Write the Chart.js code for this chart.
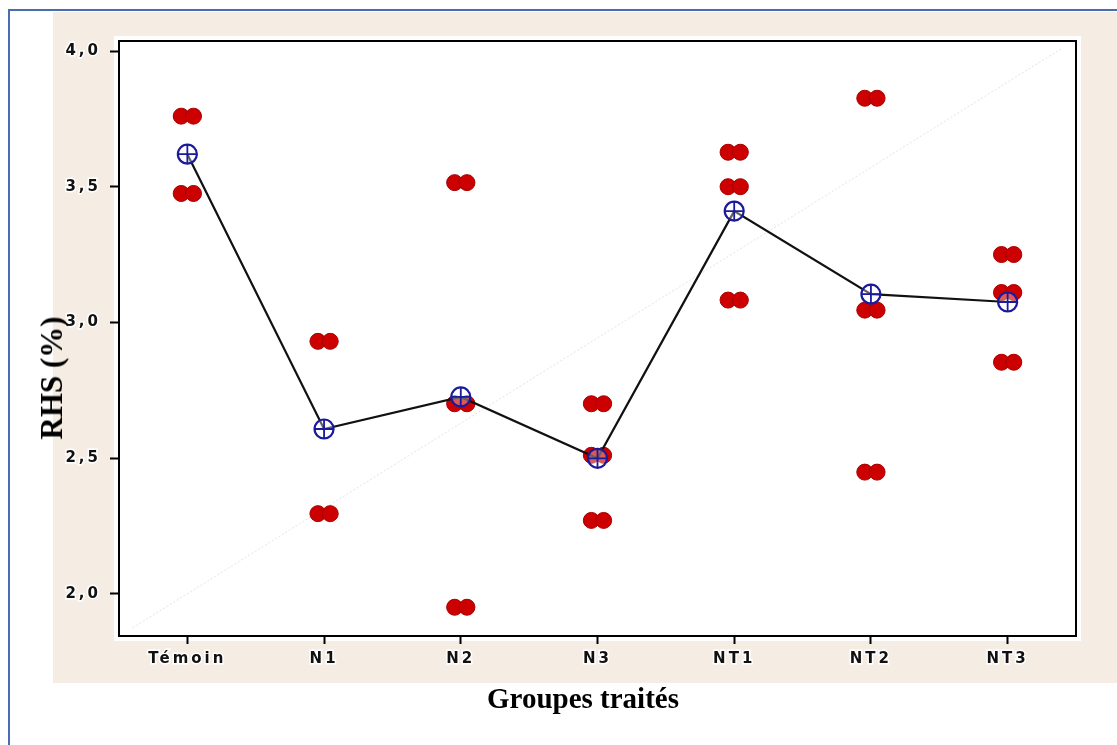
<!DOCTYPE html>
<html lang="fr">
<head>
    <meta charset="UTF-8">
    <script src="https://cdn.jsdelivr.net/npm/chart.js"></script>
    <title>RHS (%) - Groupes traités</title>
    <style>
        body { margin: 0; background: #fff; }
        #wrap { position: relative; width: 1117px; height: 745px; }
        canvas { position: absolute; left: 0; top: 0; }
        .title {
            position: absolute;
            font-family: "Liberation Serif", "Times New Roman", serif;
            font-weight: bold;
            color: #000;
            white-space: nowrap;
        }
        #xTitle { left: 583px; top: 698px; font-size: 29px; transform: translate(-50%, -50%); }
        #yTitle { left: 52px; top: 378px; font-size: 31px; transform: translate(-50%, -50%) rotate(-90deg); }
    </style>
</head>
<body>
<div id="wrap">
    <canvas id="rhsChart" width="1117" height="745"></canvas>
    <div class="title" id="xTitle">Groupes traités</div>
    <div class="title" id="yTitle">RHS (%)</div>
</div>

<script>
    // groupes et valeurs
    const categories = ['Témoin', 'N1', 'N2', 'N3', 'NT1', 'NT2', 'NT3'];
    const obsTemoin = [3.76, 3.475];
    const obsN1 = [2.93, 2.295];
    const obsN2 = [3.515, 2.70, 1.95];
    const obsN3 = [2.70, 2.51, 2.27];
    const obsNT1 = [3.627, 3.50, 3.082];
    const obsNT2 = [3.826, 3.045, 2.448];
    const obsNT3 = [3.25, 3.11, 2.853];
    const means = [3.62, 2.607, 2.725, 2.499, 3.41, 3.104, 3.075];
    const yTicks = [2.0, 2.5, 3.0, 3.5, 4.0];
    const diagLine = [{x: -0.4, y: 1.874}, {x: 6.4, y: 4.011}];

    const allObs = [obsTemoin, obsN1, obsN2, obsN3, obsNT1, obsNT2, obsNT3];

    // chaque observation est dessinée comme une paire de points côte à côte
    function obsPoints(shift) {
        const pts = [];
        allObs.forEach((arr, i) => {
            arr.forEach(v => pts.push({x: i + shift, y: v}));
        });
        return pts;
    }
    const meanPoints = means.map((m, i) => ({x: i, y: m}));

    const bgPlugin = {
        id: 'bgPlugin',
        beforeDraw(chart) {
            const c = chart.ctx;
            const a = chart.chartArea;
            c.save();
            c.fillStyle = '#fff';
            c.fillRect(0, 0, chart.width, chart.height);
            c.fillStyle = '#f5ede4';
            c.fillRect(53, 12, chart.width - 53, 671);
            c.strokeStyle = '#4a6db0';
            c.lineWidth = 2;
            c.strokeRect(9, 10, chart.width + 20, chart.height + 20);
            // halo blanc autour du cadre
            c.fillStyle = '#fff';
            c.fillRect(a.left - 5, a.top - 5, a.right - a.left + 10, a.bottom - a.top + 10);
            c.restore();
            c.letterSpacing = '3px';
        },
        beforeDatasetsDraw(chart) {
            const c = chart.ctx;
            const a = chart.chartArea;
            c.letterSpacing = '0px';
            c.save();
            c.strokeStyle = '#000';
            c.lineWidth = 2;
            c.strokeRect(a.left, a.top, a.right - a.left, a.bottom - a.top);
            c.restore();
        }
    };

    const tickFont = { family: '"DejaVu Sans", sans-serif', size: 15, weight: 'bold' };

    const ctx = document.getElementById('rhsChart').getContext('2d');
    const rhsChart = new Chart(ctx, {
        type: 'scatter',
        data: {
            datasets: [
                {
                    type: 'line',
                    data: diagLine,
                    borderColor: '#e4e4e4',
                    borderWidth: 1,
                    borderDash: [2, 2],
                    pointRadius: 0,
                    order: 6
                },
                {
                    data: obsPoints(-0.045),
                    backgroundColor: '#cc0000',
                    borderColor: '#a80000',
                    borderWidth: 1,
                    pointRadius: 8,
                    order: 5
                },
                {
                    data: obsPoints(0.045),
                    backgroundColor: '#cc0000',
                    borderColor: '#a80000',
                    borderWidth: 1,
                    pointRadius: 8,
                    order: 4
                },
                {
                    type: 'line',
                    data: meanPoints,
                    borderColor: '#111',
                    borderWidth: 2.2,
                    pointRadius: 0,
                    order: 3
                },
                {
                    data: meanPoints,
                    pointStyle: 'circle',
                    backgroundColor: 'rgba(255,255,255,0.35)',
                    borderColor: '#1a1a9a',
                    borderWidth: 2.2,
                    pointRadius: 9.5,
                    order: 2
                },
                {
                    data: meanPoints,
                    pointStyle: 'cross',
                    borderColor: '#1a1a9a',
                    borderWidth: 1.8,
                    pointRadius: 9.5,
                    order: 1
                }
            ]
        },
        options: {
            responsive: false,
            animation: false,
            layout: { padding: { left: 0, top: 41, right: 41, bottom: 0 } },
            plugins: {
                legend: { display: false },
                tooltip: { enabled: false }
            },
            scales: {
                x: {
                    type: 'linear',
                    min: -0.5,
                    max: 6.5,
                    afterBuildTicks: scale => { scale.ticks = categories.map((c, i) => ({ value: i })); },
                    afterFit: scale => { scale.height = 109; },
                    grid: { drawOnChartArea: false, drawTicks: true, tickLength: 8, tickColor: '#000', tickWidth: 2 },
                    border: { display: false },
                    ticks: {
                        callback: v => categories[v],
                        color: '#111',
                        font: tickFont,
                        padding: 6,
                        maxRotation: 0,
                        textStrokeColor: '#fff',
                        textStrokeWidth: 3
                    }
                },
                y: {
                    min: 1.844,
                    max: 4.037,
                    afterBuildTicks: scale => { scale.ticks = yTicks.map(v => ({ value: v })); },
                    afterFit: scale => { scale.width = 119; },
                    grid: { drawOnChartArea: false, drawTicks: true, tickLength: 9, tickColor: '#000', tickWidth: 2 },
                    border: { display: false },
                    ticks: {
                        callback: v => v.toFixed(1).replace('.', ','),
                        color: '#111',
                        font: tickFont,
                        padding: 9,
                        textStrokeColor: '#fff',
                        textStrokeWidth: 3
                    }
                }
            }
        },
        plugins: [bgPlugin]
    });
</script>
</body>
</html>
